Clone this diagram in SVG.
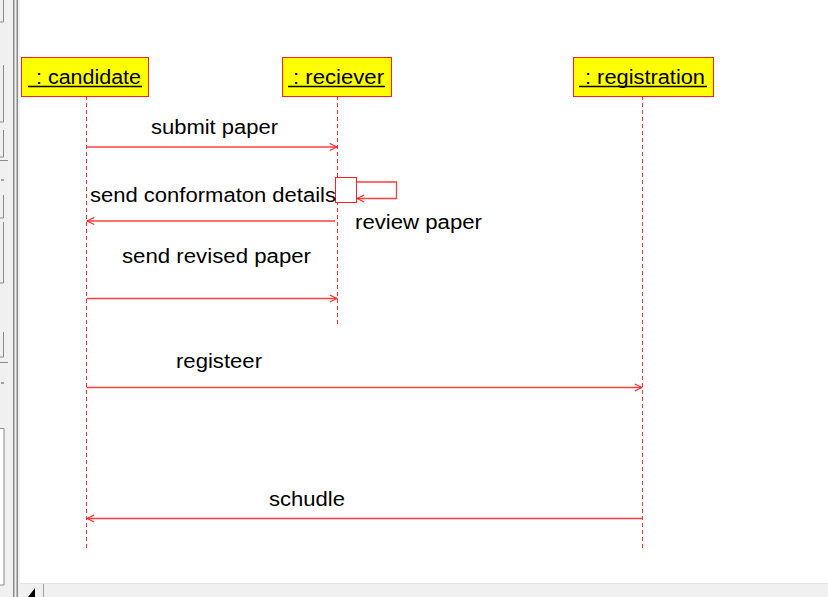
<svg xmlns="http://www.w3.org/2000/svg" width="828" height="597" viewBox="0 0 828 597">
<style>
.box{fill:#ffff00;stroke:#ff2020;stroke-width:1}
.lbl{font-family:"Liberation Sans",Arial,sans-serif;font-size:20px;fill:#000}
.ul{stroke:#000;stroke-width:1.3}
.life{stroke:#ff3030;stroke-width:1;stroke-dasharray:4 3;fill:none}
.msg{stroke:#ff4040;stroke-width:1.3;fill:none}
.chrome{fill:#f0f0f0}
.edge{stroke:#8a8a8a;stroke-width:1;fill:none}
</style>
<defs>
<marker id="open" viewBox="0 0 10 10" refX="9" refY="5" markerWidth="9" markerHeight="9" markerUnits="userSpaceOnUse" orient="auto">
<path d="M1,1 L9,5 L1,9" fill="none" stroke="#ff2020" stroke-width="1.2"/>
</marker>
</defs>
<rect width="828" height="597" fill="#ffffff"/>
<g id="chrome">
<rect class="chrome" x="0" y="0" width="20" height="597"/>
<rect x="0" y="428" width="4" height="157" fill="#ffffff"/>
<path class="edge" d="M3.5,0V22H0M3.5,65V122H0M3.5,130V157H0M0,160.5H8M3.5,195V218H0M3.5,222V283H0M3.5,332V357H0M0,362.5H8M0,428.5H4V585H0"/>
<path d="M1,180H4M1,383H4" stroke="#555" stroke-width="1"/>
<rect x="13" y="0" width="1.5" height="597" fill="#8a8a8a"/>
<rect x="16.5" y="0" width="1.5" height="597" fill="#8a8a8a"/>
<rect class="chrome" x="20" y="583" width="808" height="14"/>
<line x1="20" y1="583.5" x2="828" y2="583.5" stroke="#e2e2e2"/>
<line x1="43.5" y1="584" x2="43.5" y2="597" stroke="#a0a0a0"/>
<path d="M35,588 L35,597 L28,597 Z" fill="#000"/>
</g>
<g id="lifelines">
<line class="life" x1="86.5" y1="96" x2="86.5" y2="549"/>
<line class="life" x1="337.5" y1="96" x2="337.5" y2="327"/>
<line class="life" x1="642.5" y1="96" x2="642.5" y2="549"/>
</g>
<g id="candidate">
<rect class="box" x="21.5" y="57.5" width="127" height="39"/>
<text class="lbl" x="36" y="84" textLength="105" lengthAdjust="spacingAndGlyphs">: candidate</text>
<line class="ul" x1="28" y1="86.5" x2="142" y2="86.5"/>
</g>
<g id="reciever">
<rect class="box" x="282.5" y="57.5" width="109" height="39"/>
<text class="lbl" x="293" y="84" textLength="91" lengthAdjust="spacingAndGlyphs">: reciever</text>
<line class="ul" x1="288" y1="86.5" x2="385" y2="86.5"/>
</g>
<g id="registration">
<rect class="box" x="573.5" y="57.5" width="140" height="39"/>
<text class="lbl" x="585" y="84" textLength="120" lengthAdjust="spacingAndGlyphs">: registration</text>
<line class="ul" x1="579" y1="86.5" x2="707" y2="86.5"/>
</g>
<g id="activation">
<rect x="335.5" y="177.5" width="21" height="25" fill="#ffffff" stroke="#ff2020" stroke-width="1"/>
</g>
<g id="connectors">
<line class="msg" x1="86.5" y1="147" x2="337" y2="147" marker-end="url(#open)"/>
<polyline class="msg" points="357,182 396.5,182 396.5,198.5 357,198.5" marker-end="url(#open)"/>
<line class="msg" x1="335" y1="221" x2="87" y2="221" marker-end="url(#open)"/>
<line class="msg" x1="86.5" y1="298.5" x2="337" y2="298.5" marker-end="url(#open)"/>
<line class="msg" x1="86.5" y1="387.5" x2="642" y2="387.5" marker-end="url(#open)"/>
<line class="msg" x1="642" y1="518.5" x2="87" y2="518.5" marker-end="url(#open)"/>
</g>
<g id="labels">
<text class="lbl" x="151" y="134" textLength="127" lengthAdjust="spacingAndGlyphs">submit paper</text>
<text class="lbl" x="90" y="202" textLength="246" lengthAdjust="spacingAndGlyphs">send conformaton details</text>
<text class="lbl" x="355" y="229" textLength="127" lengthAdjust="spacingAndGlyphs">review paper</text>
<text class="lbl" x="122" y="263" textLength="189" lengthAdjust="spacingAndGlyphs">send revised paper</text>
<text class="lbl" x="176" y="368" textLength="86" lengthAdjust="spacingAndGlyphs">registeer</text>
<text class="lbl" x="269" y="506" textLength="76" lengthAdjust="spacingAndGlyphs">schudle</text>
</g>
</svg>
